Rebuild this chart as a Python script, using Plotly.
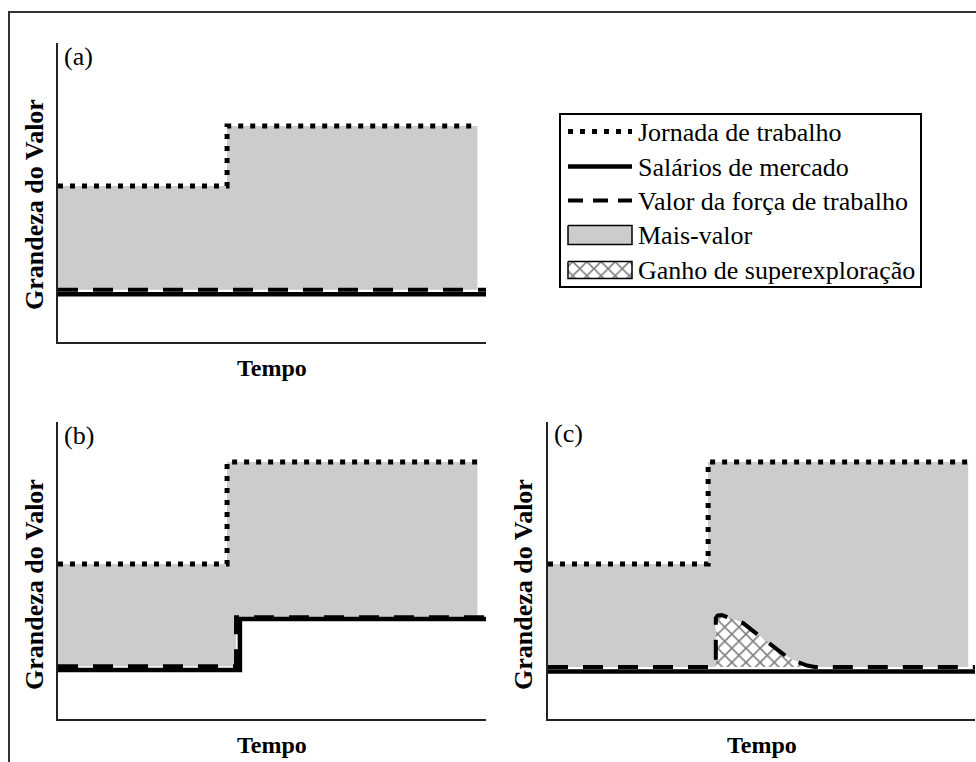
import plotly.graph_objects as go
import numpy as np

W, H = 976, 762
FONT = "Liberation Serif"

# ---------------- data ----------------
# Panel (a)
a_jornada_x = [0, 3.95, 9.8]
a_jornada_y = [5.22, 7.22, 7.22]
a_valor_x = [0, 10]
a_valor_y = [1.75, 1.75]
a_salario_x = [0, 10]
a_salario_y = [1.6, 1.6]
a_fill_end = 9.8

# Panel (b)
b_jornada_x = [0, 3.95, 9.8]
b_jornada_y = [5.22, 8.65, 8.65]
b_valor_x = [0, 4.16, 10]
b_valor_y = [1.78, 3.43, 3.43]
b_salario_x = [0, 4.25, 10]
b_salario_y = [1.65, 3.37, 3.37]
b_fill_end = 9.8

# Panel (c)
c_jornada_x = [0, 3.75, 9.84]
c_jornada_y = [5.22, 8.65, 8.65]
c_valor_x = [0, 3.93, 3.93, 3.97, 4.07, 4.57, 4.92, 5.15, 5.60, 5.85, 6.07, 6.25, 10]
c_valor_y = [1.75, 1.75, 3.40, 3.48, 3.50, 3.23, 2.83, 2.59, 2.09, 1.92, 1.80, 1.75, 1.75]
c_salario_x = [0, 10]
c_salario_y = [1.6, 1.6]
c_fill_end = 9.84

legend_labels = ["Jornada de trabalho", "Salários de mercado", "Valor da força de trabalho",
                 "Mais-valor", "Ganho de superexploração"]
panel_tags = ["(a)", "(b)", "(c)"]
xlabel = "Tempo"
ylabel = "Grandeza do Valor"

GRAY = "#cccccc"
DOT = dict(color="black", width=5, dash="5px,7px")
DASH = dict(color="black", width=4, dash="20px,15px")
SOLID = dict(color="black", width=4.5)
HATCH = dict(shape="x", size=10, solidity=0.3, fgcolor="black", bgcolor="white")


def expand(xs, ys, shape):
    if shape != "hv":
        return list(xs), list(ys)
    ox, oy = [xs[0]], [ys[0]]
    for i in range(1, len(xs)):
        ox += [xs[i], xs[i]]
        oy += [ys[i - 1], ys[i]]
    return ox, oy


def clip_to(xs, ys, end):
    xs = np.asarray(xs, float)
    ys = np.asarray(ys, float)
    keep = xs <= end
    ox, oy = list(xs[keep]), list(ys[keep])
    if ox[-1] < end:
        ox.append(end)
        oy.append(float(np.interp(end, xs, ys)))
    return ox, oy


fig = go.Figure()

panels = [
    ("x", "y", a_jornada_x, a_jornada_y, a_valor_x, a_valor_y, "linear", a_salario_x, a_salario_y, "linear", a_fill_end),
    ("x2", "y2", b_jornada_x, b_jornada_y, b_valor_x, b_valor_y, "hv", b_salario_x, b_salario_y, "hv", b_fill_end),
    ("x3", "y3", c_jornada_x, c_jornada_y, c_valor_x, c_valor_y, "linear", c_salario_x, c_salario_y, "linear", c_fill_end),
]

for (xa, ya, jx, jy, vx, vy, vshape, sx, sy, sshape, fend) in panels:
    # gray surplus-value area between value of labour power and working day
    ujx, ujy = expand(jx, jy, "hv")
    ujx, ujy = clip_to(ujx, ujy, fend)
    lvx, lvy = expand(vx, vy, vshape)
    lvx, lvy = clip_to(lvx, lvy, fend)
    px_ = ujx + lvx[::-1] + [ujx[0]]
    py_ = ujy + lvy[::-1] + [ujy[0]]
    fig.add_trace(go.Scatter(x=px_, y=py_, mode="lines", fill="toself", fillcolor=GRAY,
                             line=dict(width=0), xaxis=xa, yaxis=ya, showlegend=False,
                             hoverinfo="skip"))
    if xa == "x3":
        hx = [x for x, y in zip(vx, vy) if 3.9 <= x <= 6.3]
        hy = [y for x, y in zip(vx, vy) if 3.9 <= x <= 6.3]
        fig.add_trace(go.Scatter(x=hx, y=hy, mode="lines", fill="toself", fillcolor="white",
                                 fillpattern=HATCH,
                                 line=dict(width=0), xaxis=xa, yaxis=ya, showlegend=False,
                                 hoverinfo="skip"))
    fig.add_trace(go.Scatter(x=sx, y=sy, mode="lines", line=dict(**SOLID, shape=sshape),
                             xaxis=xa, yaxis=ya, showlegend=False, hoverinfo="skip"))
    fig.add_trace(go.Scatter(x=vx, y=vy, mode="lines", line=dict(**DASH, shape=vshape),
                             xaxis=xa, yaxis=ya, showlegend=False, hoverinfo="skip"))
    fig.add_trace(go.Scatter(x=jx, y=jy, mode="lines", line=dict(**DOT, shape="hv"),
                             xaxis=xa, yaxis=ya, showlegend=False, hoverinfo="skip"))

# ---------------- legend (drawn on a pixel overlay axis) ----------------
LX0, LX1 = 568, 632
rows = [131.5, 166.5, 200.5, 235, 270]
fig.add_trace(go.Scatter(x=[LX0, LX1], y=[rows[0]] * 2, mode="lines",
                         line=dict(color="black", width=5, dash="5px,7px"),
                         xaxis="x4", yaxis="y4", showlegend=False, hoverinfo="skip"))
fig.add_trace(go.Scatter(x=[LX0, LX1], y=[rows[1]] * 2, mode="lines",
                         line=dict(color="black", width=4.5),
                         xaxis="x4", yaxis="y4", showlegend=False, hoverinfo="skip"))
fig.add_trace(go.Scatter(x=[LX0, LX1], y=[rows[2]] * 2, mode="lines",
                         line=dict(color="black", width=4, dash="15px,10px"),
                         xaxis="x4", yaxis="y4", showlegend=False, hoverinfo="skip"))
fig.add_trace(go.Scatter(x=[LX0, LX1, LX1, LX0, LX0],
                         y=[rows[3] - 9.5, rows[3] - 9.5, rows[3] + 9.5, rows[3] + 9.5, rows[3] - 9.5],
                         mode="lines", fill="toself", fillcolor=GRAY,
                         line=dict(color="black", width=1.5),
                         xaxis="x4", yaxis="y4", showlegend=False, hoverinfo="skip"))
fig.add_trace(go.Scatter(x=[LX0, LX1, LX1, LX0, LX0],
                         y=[rows[4] - 8.5, rows[4] - 8.5, rows[4] + 8.5, rows[4] + 8.5, rows[4] - 8.5],
                         mode="lines", fill="toself", fillcolor="white",
                         fillpattern=HATCH,
                         line=dict(color="black", width=1.5),
                         xaxis="x4", yaxis="y4", showlegend=False, hoverinfo="skip"))


def px(v):
    return v / W


def py(v):
    return 1 - v / H


ax_common = dict(showgrid=False, zeroline=False, showticklabels=False, ticks="",
                 showline=True, linecolor="#222", linewidth=2, mirror=False, fixedrange=True)

fig.update_layout(
    width=W, height=H, margin=dict(l=0, r=0, t=0, b=0),
    paper_bgcolor="white", plot_bgcolor="rgba(0,0,0,0)",
    showlegend=False,
    xaxis=dict(domain=[px(58), px(486)], range=[0, 10], anchor="y", **ax_common),
    yaxis=dict(domain=[py(342), py(43)], range=[0, 10], anchor="x", **ax_common),
    xaxis2=dict(domain=[px(58), px(486)], range=[0, 10], anchor="y2", **ax_common),
    yaxis2=dict(domain=[py(719), py(422)], range=[0, 10], anchor="x2", **ax_common),
    xaxis3=dict(domain=[px(548), px(975)], range=[0, 10], anchor="y3", **ax_common),
    yaxis3=dict(domain=[py(719), py(422)], range=[0, 10], anchor="x3", **ax_common),
    xaxis4=dict(domain=[0, 1], range=[0, W], anchor="y4", visible=False, fixedrange=True),
    yaxis4=dict(domain=[0, 1], range=[H, 0], anchor="x4", visible=False, fixedrange=True),
)

shapes = [
    # outer frame (only top and left edges fall inside the image)
    dict(type="rect", xref="paper", yref="paper", x0=px(9), x1=px(W + 20), y0=py(H + 20), y1=py(12),
         line=dict(color="#333", width=2), fillcolor="rgba(0,0,0,0)", layer="above"),
    # legend box
    dict(type="rect", xref="paper", yref="paper", x0=px(560), x1=px(921), y0=py(287), y1=py(114),
         line=dict(color="black", width=2), fillcolor="rgba(0,0,0,0)", layer="above"),
]
fig.update_layout(shapes=shapes)

ann = []
for lab, y in zip(legend_labels, rows):
    ann.append(dict(text=lab, x=px(636), y=py(y + 1), xref="paper", yref="paper",
                    xanchor="left", yanchor="middle", showarrow=False,
                    font=dict(family=FONT, size=26, color="black")))
for tag, (x, y) in zip(panel_tags, [(62, 57), (62, 435), (552, 433)]):
    ann.append(dict(text=tag, x=px(x), y=py(y), xref="paper", yref="paper",
                    xanchor="left", yanchor="middle", showarrow=False,
                    font=dict(family=FONT, size=26, color="black")))
for (x, y) in [(272, 368), (272, 745), (762, 745)]:
    ann.append(dict(text="<b>%s</b>" % xlabel, x=px(x), y=py(y), xref="paper", yref="paper",
                    xanchor="center", yanchor="middle", showarrow=False,
                    font=dict(family=FONT, size=24, color="black")))
for (x, y) in [(34, 205), (34, 585), (523, 585)]:
    ann.append(dict(text="<b>%s</b>" % ylabel, x=px(x), y=py(y), xref="paper", yref="paper",
                    xanchor="center", yanchor="middle", showarrow=False, textangle=-90,
                    font=dict(family=FONT, size=26, color="black")))
fig.update_layout(annotations=ann)

fig.write_html("out.html")
